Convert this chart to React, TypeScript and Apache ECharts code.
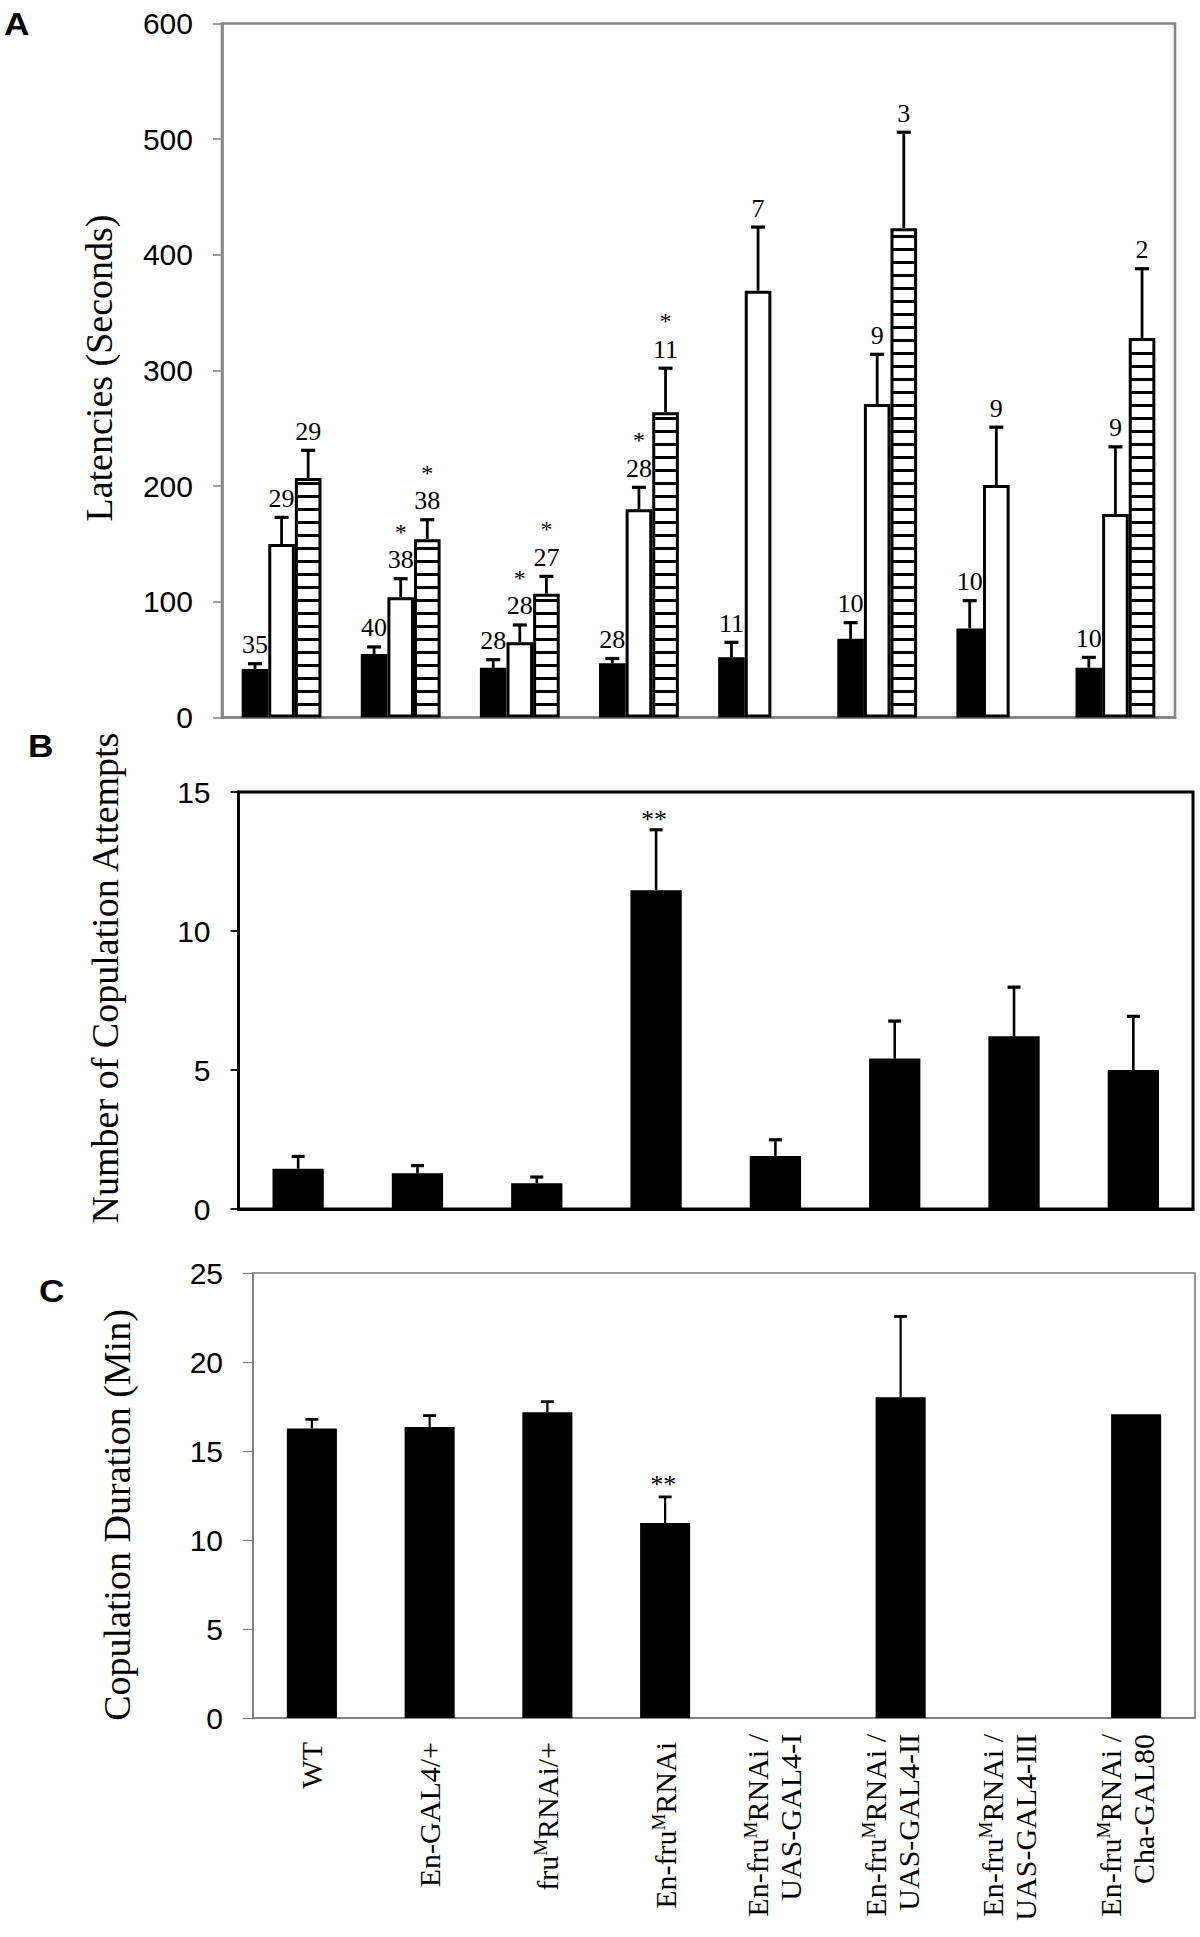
import React, { useEffect, useRef } from 'react';
import * as echarts from 'echarts';

// ---------- data ----------
const categories = [
  'WT',
  'En-GAL4/+',
  'fru^MRNAi/+',
  'En-fru^MRNAi',
  'En-fru^MRNAi /\nUAS-GAL4-I',
  'En-fru^MRNAi /\nUAS-GAL4-II',
  'En-fru^MRNAi /\nUAS-GAL4-III',
  'En-fru^MRNAi /\nCha-GAL80',
];

// Panel A – latencies (seconds), three measures per genotype
const latencyBlack = [42, 55, 43, 47, 52, 68, 77, 43];
const latencyBlackSE = [4.5, 6, 7, 4, 13, 14, 24, 9];
const latencyWhite = [150, 104, 65, 180, 369, 271, 201, 176];
const latencyWhiteSE = [23, 16, 15, 19, 55, 43, 50, 58];
const latencyHatched = [207, 154, 107, 264, null, 423, null, 328];
const latencyHatchedSE = [24, 17, 15, 38, null, 83, null, 60];
const nBlack = ['35', '40', '28', '28', '11', '10', '10', '10'];
const nWhite = ['29', '38', '28', '28', '7', '9', '9', '9'];
const nHatched = ['29', '38', '27', '11', '', '3', '', '2'];
const sigWhite = ['', '*', '*', '*', '', '', '', ''];
const sigHatched = ['', '*', '*', '*', '', '', '', ''];

// Panel B – number of copulation attempts
const attempts = [1.45, 1.29, 0.93, 11.47, 1.91, 5.41, 6.21, 5.0];
const attemptsSE = [0.44, 0.27, 0.22, 2.17, 0.58, 1.35, 1.77, 1.93];
const attemptsSig = ['', '', '', '**', '', '', '', ''];

// Panel C – copulation duration (min)
const duration = [16.27, 16.35, 17.17, 10.96, null, 18.02, null, 17.06];
const durationSE = [0.51, 0.64, 0.6, 1.46, null, 4.54, null, 0];
const durationSig = ['', '', '', '**', '', '', '', ''];

// ---------- styling ----------
const SERIF = "'Liberation Serif', 'Times New Roman', serif";
const SANS = "'Liberation Sans', Arial, sans-serif";
const GRAY_A = '#868686';
const GRAY_C = '#7a7a7a';
const A_GAP = 0.33;
const STRIPE = 13;

function groupedRender(
  pos: number,
  means: (number | null)[],
  ses: (number | null)[],
  ns: string[],
  sigs: string[] | null,
  hatched: boolean
) {
  return (params: any, api: any) => {
    const i = params.dataIndex;
    const m = means[i];
    if (m == null) return null;
    const band = api.size([1, 0])[0];
    const barW = (band * (1 - A_GAP)) / 3;
    const base = api.coord([i, 0]);
    const cx = base[0] + (pos - 1) * barW;
    const yTop = api.coord([i, m])[1];
    const yErr = api.coord([i, m + (ses[i] || 0)])[1];
    const children: any[] = [];
    if (hatched) {
      const x1 = cx - barW / 2 + 1.5;
      const x2 = cx + barW / 2 - 1.5;
      for (let y = base[1] - STRIPE; y > yTop + 4; y -= STRIPE) {
        children.push({
          type: 'line',
          shape: { x1, y1: y, x2, y2: y },
          style: { stroke: '#000', lineWidth: 3 },
        });
      }
    }
    children.push({
      type: 'line',
      shape: { x1: cx, y1: yTop, x2: cx, y2: yErr },
      style: { stroke: '#000', lineWidth: 2.8 },
    });
    children.push({
      type: 'line',
      shape: { x1: cx - 7, y1: yErr, x2: cx + 7, y2: yErr },
      style: { stroke: '#000', lineWidth: 3.2 },
    });
    const ny = yErr - 19;
    if (ns[i]) {
      children.push({
        type: 'text',
        x: cx,
        y: ny,
        style: {
          text: ns[i],
          fill: '#000',
          fontSize: 26,
          fontFamily: SERIF,
          align: 'center',
          verticalAlign: 'middle',
        },
      });
    }
    if (sigs && sigs[i]) {
      children.push({
        type: 'text',
        x: cx,
        y: ny - 28,
        style: {
          text: sigs[i],
          fill: '#000',
          fontSize: 24,
          fontFamily: SERIF,
          align: 'center',
          verticalAlign: 'middle',
        },
      });
    }
    return { type: 'group', children };
  };
}

function singleRender(
  means: (number | null)[],
  ses: (number | null)[],
  sigs: string[],
  lw: number,
  sigGap: number
) {
  return (params: any, api: any) => {
    const i = params.dataIndex;
    const m = means[i];
    if (m == null) return null;
    const se = ses[i] || 0;
    const cx = api.coord([i, 0])[0];
    const yTop = api.coord([i, m])[1];
    const yErr = api.coord([i, m + se])[1];
    const children: any[] = [];
    if (se > 0) {
      children.push({
        type: 'line',
        shape: { x1: cx, y1: yTop, x2: cx, y2: yErr },
        style: { stroke: '#000', lineWidth: lw },
      });
      children.push({
        type: 'line',
        shape: { x1: cx - 6.5, y1: yErr, x2: cx + 6.5, y2: yErr },
        style: { stroke: '#000', lineWidth: lw + 0.6 },
      });
    }
    if (sigs[i]) {
      children.push({
        type: 'text',
        x: cx - 2,
        y: yErr - sigGap,
        style: {
          text: sigs[i],
          fill: '#000',
          fontSize: 26,
          fontFamily: SERIF,
          align: 'center',
          verticalAlign: 'middle',
        },
      });
    }
    return { type: 'group', children };
  };
}

// Builds rich-text for the rotated genotype labels (^M marks a superscript M)
function labelFormatter(v: string) {
  const lines = v.split('\n');
  const body = lines
    .map((line) => {
      const toks: string[][] = [];
      line.split('^M').forEach((seg, k) => {
        if (k > 0) toks.push(['s', 'M']);
        if (seg) toks.push(['n', seg]);
      });
      if (lines.length === 1 && toks.length) {
        const last = toks[toks.length - 1];
        if (last[0] === 'n') last[0] = 'e';
      }
      return toks.map(([st, t]) => `{${st}|${t}}`).join('');
    })
    .join('\n');
  return lines.length > 1 ? body + '\n{z|\u00a0}' : body;
}

function yAxisCommon(gridIndex: number, max: number, interval: number, color: string, width: number, tickLen: number, margin: number) {
  return {
    type: 'value',
    gridIndex,
    min: 0,
    max,
    interval,
    axisLine: { show: true, lineStyle: { color, width } },
    axisTick: { show: true, length: tickLen, lineStyle: { color, width: Math.max(1.2, width - 1) } },
    splitLine: { show: false },
    axisLabel: { color: '#000', fontSize: 30, fontFamily: SANS, margin },
  };
}

export default function App() {
  const ref = useRef<HTMLDivElement>(null);
  useEffect(() => {
    document.body.style.margin = '0';
    if (!ref.current) return;
    const chart = echarts.init(ref.current, undefined, { renderer: 'svg' });
    const idx = categories.map((_, i) => i);
    const letter = (t: string, x: number, y: number) => ({
      type: 'text', x, y, scaleX: 1.1,
      style: { text: t, fontSize: 32, fontWeight: 'bold', fontFamily: SANS, fill: '#000' },
    });

    const option: any = {
      animation: false,
      backgroundColor: '#fff',
      grid: [
        { left: 222, top: 23.5, width: 953, height: 694, show: true, borderColor: GRAY_A, borderWidth: 2.6 },
        { left: 238.5, top: 792, width: 954.5, height: 417, show: true, borderColor: '#000', borderWidth: 3 },
        { left: 253, top: 1273, width: 942, height: 445, show: true, borderColor: GRAY_C, borderWidth: 1.6 },
      ],
      xAxis: [
        {
          type: 'category', gridIndex: 0, data: categories,
          axisLine: { lineStyle: { color: GRAY_A, width: 2.8 } },
          axisTick: { show: false }, axisLabel: { show: false },
        },
        {
          type: 'category', gridIndex: 1, data: categories,
          axisLine: { lineStyle: { color: '#000', width: 3 } },
          axisTick: { show: false }, axisLabel: { show: false },
        },
        {
          type: 'category', gridIndex: 2, data: categories,
          axisLine: { lineStyle: { color: GRAY_C, width: 1.6 } },
          axisTick: { show: false },
          axisLabel: {
            show: true,
            interval: 0,
            rotate: 90,
            margin: 16,
            color: '#000',
            formatter: labelFormatter,
            rich: {
              n: { fontFamily: SERIF, fontSize: 30, color: '#000', lineHeight: 33 },
              e: { fontFamily: SERIF, fontSize: 30, color: '#000', lineHeight: 33, padding: [0, 8, 0, 0] },
              s: { fontFamily: SERIF, fontSize: 19, color: '#000', lineHeight: 33, verticalAlign: 'top' },
              z: { fontFamily: SERIF, fontSize: 10, color: '#000', lineHeight: 18 },
            },
          },
        },
      ],
      yAxis: [
        yAxisCommon(0, 600, 100, GRAY_A, 2.6, 9, 29),
        yAxisCommon(1, 15, 5, '#000', 2.8, 8, 28),
        yAxisCommon(2, 25, 5, GRAY_C, 1.6, 10, 30),
      ],
      graphic: [
        letter('A', 4, 8),
        letter('B', 28, 730),
        letter('C', 39, 1275),
        {
          type: 'text', x: 99, y: 368, rotation: Math.PI / 2,
          style: { text: 'Latencies (Seconds)', fontSize: 38, fontFamily: SERIF, fill: '#000', align: 'center', verticalAlign: 'middle' },
        },
        {
          type: 'text', x: 105, y: 978, rotation: Math.PI / 2,
          style: { text: 'Number of Copulation Attempts', fontSize: 38, fontFamily: SERIF, fill: '#000', align: 'center', verticalAlign: 'middle' },
        },
        {
          type: 'text', x: 117, y: 1515, rotation: Math.PI / 2,
          style: { text: 'Copulation Duration (Min)', fontSize: 38, fontFamily: SERIF, fill: '#000', align: 'center', verticalAlign: 'middle' },
        },
      ],
      series: [
        {
          name: 'Latency (black)', type: 'bar', xAxisIndex: 0, yAxisIndex: 0,
          data: latencyBlack, barGap: '0%', barCategoryGap: `${A_GAP * 100}%`,
          itemStyle: { color: '#000', borderColor: '#000', borderWidth: 3 },
        },
        {
          name: 'Latency (white)', type: 'bar', xAxisIndex: 0, yAxisIndex: 0,
          data: latencyWhite, barGap: '0%', barCategoryGap: `${A_GAP * 100}%`,
          itemStyle: { color: '#fff', borderColor: '#000', borderWidth: 3 },
        },
        {
          name: 'Latency (hatched)', type: 'bar', xAxisIndex: 0, yAxisIndex: 0,
          data: latencyHatched.map((v) => (v == null ? '-' : v)), barGap: '0%', barCategoryGap: `${A_GAP * 100}%`,
          itemStyle: { color: '#fff', borderColor: '#000', borderWidth: 3 },
        },
        {
          type: 'custom', xAxisIndex: 0, yAxisIndex: 0, z: 5, silent: true,
          data: idx.map((i) => [i, latencyBlack[i]]),
          renderItem: groupedRender(0, latencyBlack, latencyBlackSE, nBlack, null, false),
        },
        {
          type: 'custom', xAxisIndex: 0, yAxisIndex: 0, z: 5, silent: true,
          data: idx.map((i) => [i, latencyWhite[i]]),
          renderItem: groupedRender(1, latencyWhite, latencyWhiteSE, nWhite, sigWhite, false),
        },
        {
          type: 'custom', xAxisIndex: 0, yAxisIndex: 0, z: 5, silent: true,
          data: idx.map((i) => [i, latencyHatched[i] == null ? 0 : latencyHatched[i]]),
          renderItem: groupedRender(2, latencyHatched, latencyHatchedSE, nHatched, sigHatched, true),
        },
        {
          name: 'Copulation attempts', type: 'bar', xAxisIndex: 1, yAxisIndex: 1,
          data: attempts, barWidth: '43%',
          itemStyle: { color: '#000' },
        },
        {
          type: 'custom', xAxisIndex: 1, yAxisIndex: 1, z: 5, silent: true,
          data: idx.map((i) => [i, attempts[i]]),
          renderItem: singleRender(attempts, attemptsSE, attemptsSig, 2.6, 10),
        },
        {
          name: 'Copulation duration', type: 'bar', xAxisIndex: 2, yAxisIndex: 2,
          data: duration.map((v) => (v == null ? '-' : v)), barWidth: '42.5%',
          itemStyle: { color: '#000' },
        },
        {
          type: 'custom', xAxisIndex: 2, yAxisIndex: 2, z: 5, silent: true,
          data: idx.map((i) => [i, duration[i] == null ? 0 : duration[i]]),
          renderItem: singleRender(duration, durationSE, durationSig, 2.2, 12),
        },
      ],
    };
    chart.setOption(option);
    return () => chart.dispose();
  }, []);
  return <div ref={ref} style={{ width: 1200, height: 1937 }} />;
}
